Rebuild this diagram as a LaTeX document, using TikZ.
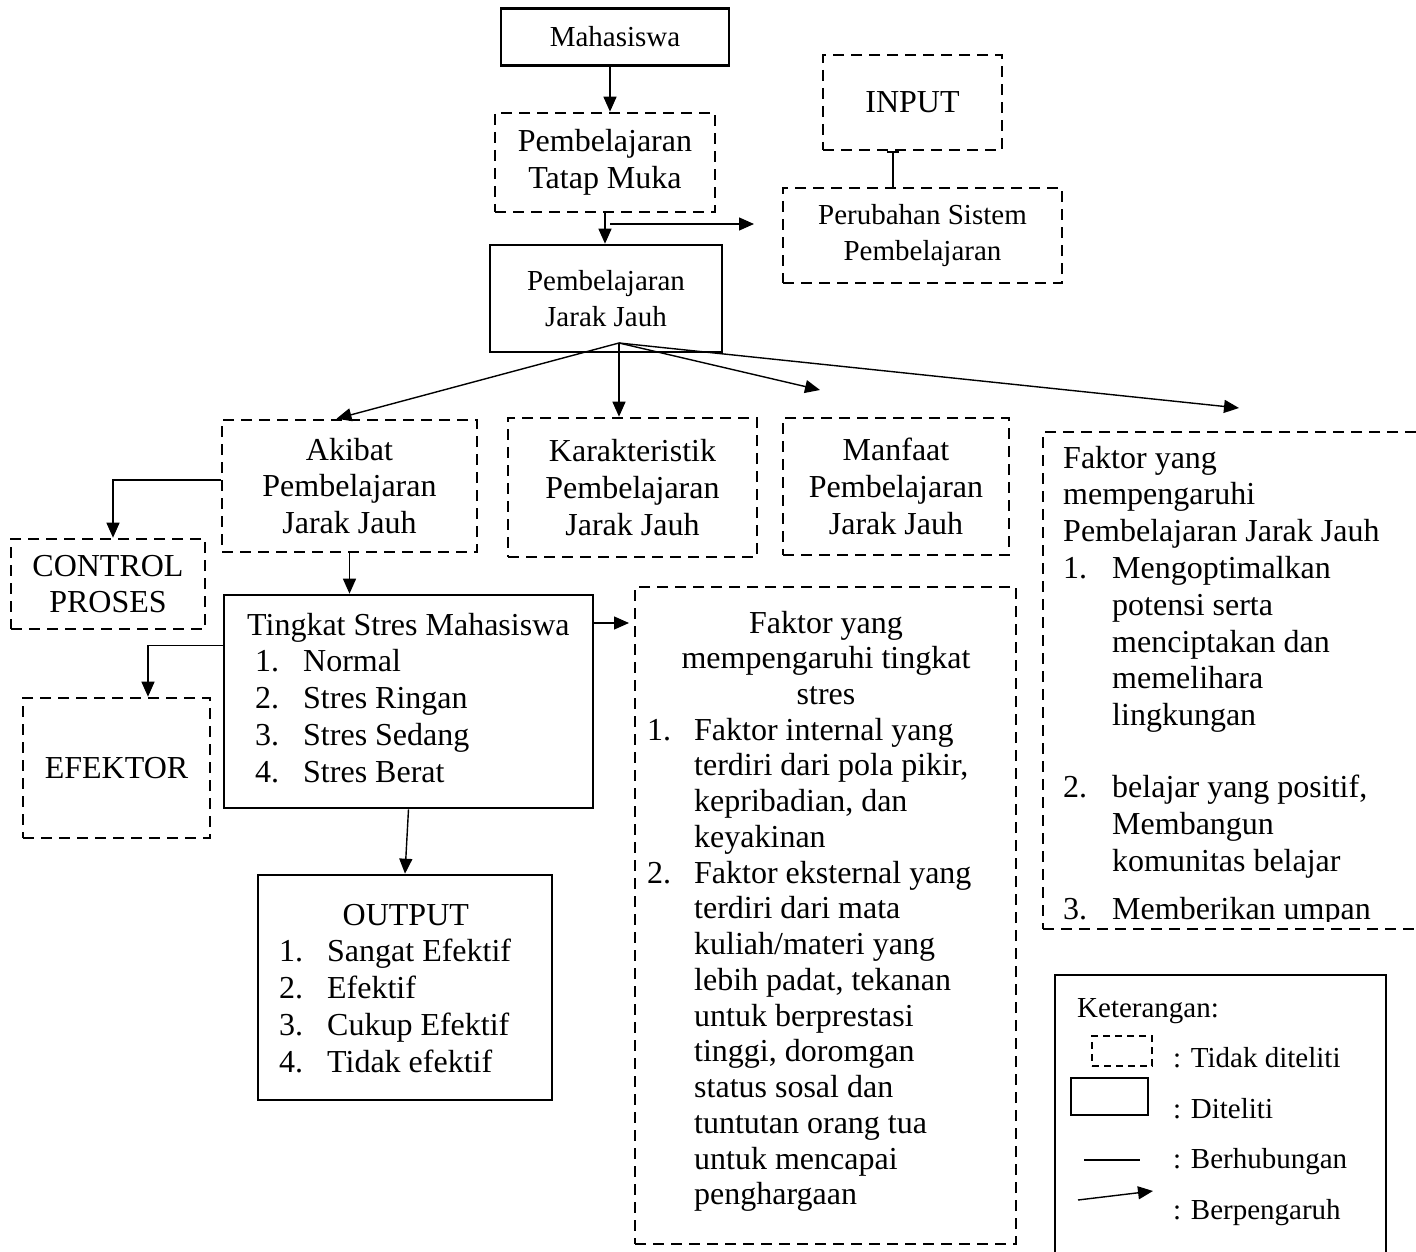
\documentclass[tikz,border=0pt]{standalone}
\usepackage{fontspec}
\setmainfont{Liberation Serif}
\usepackage{tikz}
\usetikzlibrary{positioning, arrows.meta, calc}
\newcommand{\numitem}[3][48pt]{\makebox[#1][l]{#2}#3}

\begin{document}
\begin{tikzpicture}[x=1pt, y=-1pt,
    every node/.style={font=\fontsize{32}{36.8}\selectfont},
    small/.style={font=\fontsize{29}{35.5}\selectfont},
    solidbox/.style={draw, line width=2.6pt, align=center, inner sep=0pt},
    dashbox/.style={draw, line width=2.6pt, dash pattern=on 11pt off 7pt, align=center, inner sep=0pt},
    txt/.style={inner sep=0pt, anchor=north west, align=left},
    arr/.style={line width=1.4pt, -{Triangle[length=15pt, width=13pt]}},
    link/.style={line width=1.4pt}]
\useasboundingbox (0,0) rectangle (1416,1252);
\clip (0,0) rectangle (1416,1252);

% top part
\node[solidbox, small, minimum width=228pt, minimum height=57pt] (mhs) at (615,37) {Mahasiswa};
\node[dashbox, minimum width=220pt, minimum height=99pt] (tatap) at (605,162.5) {Pembelajaran\\Tatap Muka};
\node[dashbox, minimum width=179pt, minimum height=95pt] (input) at (912.5,102.5) {INPUT};
\node[dashbox, small, minimum width=279pt, minimum height=95pt] (ubah) at (922.5,235.5) {Perubahan Sistem\\Pembelajaran};
\node[solidbox, small, minimum width=232pt, minimum height=107pt] (pjj) at (606,298.5) {Pembelajaran\\Jarak Jauh};

% second row
\node[dashbox, minimum width=255pt, minimum height=132pt] (akibat) at (349.5,486) {Akibat\\Pembelajaran\\Jarak Jauh};
\node[dashbox, minimum width=249pt, minimum height=139pt] (karak) at (632.5,487.5) {Karakteristik\\Pembelajaran\\Jarak Jauh};
\node[dashbox, minimum width=226pt, minimum height=137pt] (manfaat) at (896,486.5) {Manfaat\\Pembelajaran\\Jarak Jauh};
\node[dashbox, minimum width=397pt, minimum height=497pt] (fpjj) at (1241.5,680.5) {};
\begin{scope}
  \clip (1040,430) rectangle (1416,921);
  \node[txt] (fpjjtext) at (1063,442.2) {\strut Faktor yang\\
    mempengaruhi\\
    Pembelajaran Jarak Jauh\\
    \numitem[49pt]{1.}{Mengoptimalkan}\\
    \hspace*{49pt}potensi serta\\
    \hspace*{49pt}menciptakan dan\\
    \hspace*{49pt}memelihara\\
    \hspace*{49pt}lingkungan\\[35pt]
    \numitem[49pt]{2.}{belajar yang positif,}\\
    \hspace*{49pt}Membangun\\
    \hspace*{49pt}komunitas belajar\\[12pt]
    \numitem[49pt]{3.}{Memberikan umpan}};
\end{scope}

% left side
\node[dashbox, minimum width=194pt, minimum height=90pt] (control) at (108,584) {CONTROL\\PROSES};
\node[dashbox, minimum width=187pt, minimum height=140pt] (efektor) at (116.5,768) {EFEKTOR};

\node[solidbox, minimum width=369pt, minimum height=213pt] (tingkat) at (408.5,701.5) {};
\node[txt] (tingkattext) at (247,609.2) {\strut Tingkat Stres Mahasiswa\\
  \hspace*{8pt}\numitem{1.}{Normal}\\
  \hspace*{8pt}\numitem{2.}{Stres Ringan}\\
  \hspace*{8pt}\numitem{3.}{Stres Sedang}\\
  \hspace*{8pt}\numitem{4.}{Stres Berat}};

\node[solidbox, minimum width=294pt, minimum height=225pt] (output) at (405,987.5) {};
\node[txt] (outputtext) at (279,899.2) {\strut\hspace*{63.5pt}OUTPUT\\
  \numitem{1.}{Sangat Efektif}\\
  \numitem{2.}{Efektif}\\
  \numitem{3.}{Cukup Efektif}\\
  \numitem{4.}{Tidak efektif}};

% faktor tingkat stres
\node[dashbox, minimum width=381pt, minimum height=657pt] (ftingkat) at (825.5,915.5) {};
\node[inner sep=0pt, anchor=north, align=center, font=\fontsize{32}{35.75}\selectfont] (ftitle) at (826,608) {\strut Faktor yang\\mempengaruhi tingkat\\stres};
\node[txt, font=\fontsize{32}{35.75}\selectfont] (flist) at (647,715) {\strut\numitem[47pt]{1.}{Faktor internal yang}\\
  \hspace*{47pt}terdiri dari pola pikir,\\
  \hspace*{47pt}kepribadian, dan\\
  \hspace*{47pt}keyakinan\\
  \numitem[47pt]{2.}{Faktor eksternal yang}\\
  \hspace*{47pt}terdiri dari mata\\
  \hspace*{47pt}kuliah/materi yang\\
  \hspace*{47pt}lebih padat, tekanan\\
  \hspace*{47pt}untuk berprestasi\\
  \hspace*{47pt}tinggi, doromgan\\
  \hspace*{47pt}status sosal dan\\
  \hspace*{47pt}tuntutan orang tua\\
  \hspace*{47pt}untuk mencapai\\
  \hspace*{47pt}penghargaan};

% legend
\node[solidbox, minimum width=331pt, minimum height=290pt] (legend) at (1220.5,1120) {};
\node[txt, small, anchor=base west] (ket) at (1077,1017) {Keterangan:};
\node[draw, line width=2.4pt, dash pattern=on 7pt off 5pt, minimum width=60pt, minimum height=30pt, inner sep=0pt] (keydash) at (1122,1051) {};
\node[txt, small, anchor=base west] (ketdash) at (1173,1067) {: Tidak diteliti};
\node[draw, line width=2.6pt, minimum width=77pt, minimum height=37pt, inner sep=0pt] (keysolid) at (1109.5,1096.5) {};
\node[txt, small, anchor=base west] (ketsolid) at (1173,1118) {: Diteliti};
\coordinate (linea) at (1084,1160);
\coordinate (lineb) at (1140,1160);
\node[txt, small, anchor=base west] (ketline) at (1173,1168) {: Berhubungan};
\coordinate (arra) at (1078,1200);
\coordinate (arrb) at (1153,1191);
\node[txt, small, anchor=base west] (ketarr) at (1173,1219) {: Berpengaruh};

% free ends
\coordinate (fan) at (619,343);
\coordinate (mfend) at (820,390);
\coordinate (fpend) at (1239,408);
\coordinate (tmstart) at (610,224);
\coordinate (tmend) at (754,224);
\coordinate (stresout) at (629,623);

% connectors
\path[arr]
  ([xshift=-5pt]mhs.south) edge ([xshift=5pt]tatap.north)
  (tatap.south) edge (tatap.south |- pjj.north)
  (tmstart) edge (tmend)
  (fan) edge ([xshift=-13pt]akibat.north)
  (fan) edge (fan |- karak.north)
  (fan) edge (mfend)
  (fan) edge (fpend)
  (akibat.south) edge (akibat.south |- tingkat.north)
  (tingkat.east |- stresout) edge (stresout)
  (tingkat.south) edge (output.north)
  (arra) edge (arrb);
\draw[link, -{Bar[width=12pt]}] ([xshift=-29.5pt]ubah.north) -- ([xshift=-29.5pt]ubah.north |- input.south);
\draw[arr] ([yshift=6pt]akibat.west) -| ([xshift=5pt]control.north);
\draw[arr] ($(tingkat.north west)+(0,52)$) -| ([xshift=31.5pt]efektor.north);
\draw[link, line width=1.2pt] (linea) -- (lineb);
\end{tikzpicture}
\end{document}
